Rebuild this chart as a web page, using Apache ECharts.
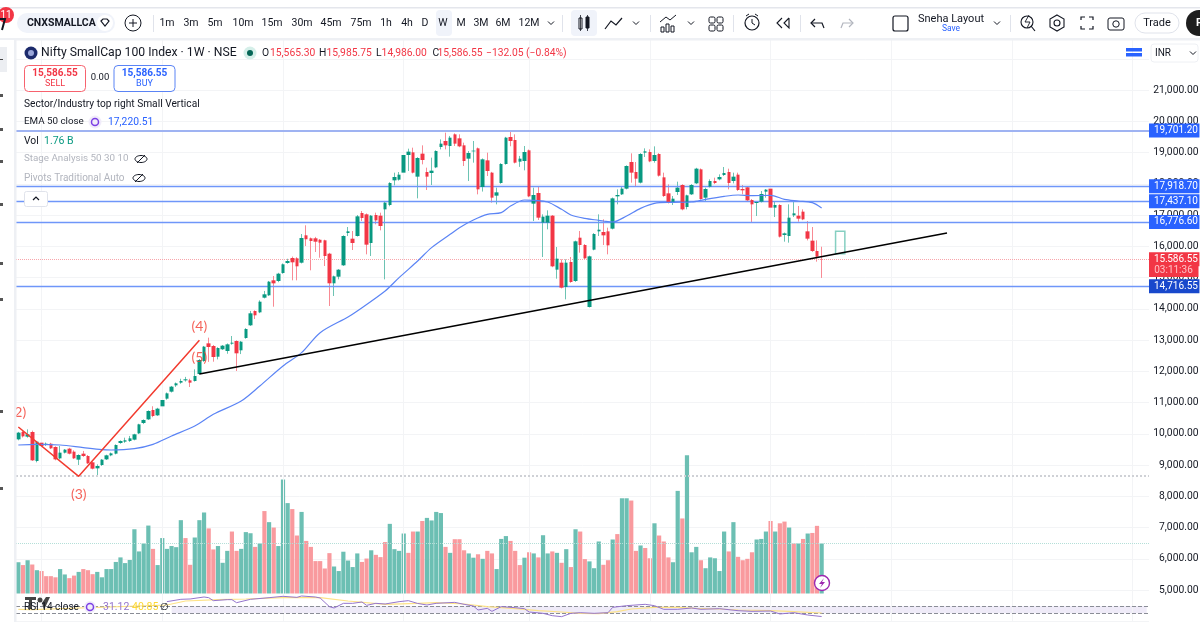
<!DOCTYPE html>
<html><head><meta charset="utf-8">
<style>html,body{margin:0;padding:0;background:#fff}#c{width:1200px;height:622px}</style>
<script src="https://cdn.jsdelivr.net/npm/echarts@6/dist/echarts.min.js"></script>
</head><body><div id="c"></div>
<script>
const opens=[9821,10056,9907,10056,9128,9714,9640,9682,9576,9213,9395,9523,9427,9171,9363,9288,9085,8893,9000,9181,9309,9363,9704,9747,9768,9811,10013,10344,10461,10760,10589,10877,11123,11347,11549,11635,11709,11709,11688,11912,12328,12893,12808,12466,12703,12648,12882,12968,12670,13064,13470,13928,13885,14354,14430,14910,14888,15144,15464,15624,15614,15474,16350,16254,16254,16208,16190,15762,14814,15026,15390,16424,16242,16328,17064,17021,16104,17000,16979,17181,17320,18109,18131,18355,18920,19005,18227,18963,18376,18344,18525,19176,19368,19208,19581,19453,19229,18803,19037,19133,17896,18749,18355,17619,18024,18632,19496,19400,18707,18728,19069,17363,17704,16755,16755,16979,15251,15475,14696,15496,14888,16274,16040,14056,15891,16477,16456,16477,16563,17597,17661,17843,18696,18376,18035,18995,19016,18728,18952,18205,17693,17384,17736,17960,17256,17661,18013,18461,17555,17907,18088,18141,18280,18376,18088,18291,17832,17885,17480,17384,17427,17747,17843,17235,17320,16360,16328,16989,16979,17107,16477,16179,15848,15590];
const closes=[10035,9917,9981,9149,9747,9608,9682,9533,9181,9395,9491,9363,9213,9320,9288,9053,8883,8968,9171,9309,9373,9640,9768,9790,9853,9981,10301,10440,10728,10568,10803,11080,11293,11507,11613,11688,11742,11635,11848,12360,12787,12776,12456,12744,12818,12861,12914,12574,12946,13352,13854,13790,14226,14462,14866,14813,15122,15422,15528,15486,15358,16264,16224,16168,16146,16114,15688,14814,15037,15250,16328,16477,16104,16957,16904,16051,16979,16829,16648,17395,18024,18216,18291,18920,19027,18355,18824,18760,18227,18419,19048,19283,19229,19475,19283,19197,18728,18984,19059,17821,18781,18408,17555,17725,18632,19475,19368,18675,18803,19016,17597,17640,16915,16947,16979,15357,15603,14675,15475,14856,16157,16040,15613,15677,16392,16530,16349,16029,17533,17640,17843,18568,18355,18163,18952,19037,18717,18920,18259,17608,17395,17522,17875,17181,17629,17960,18483,17512,17832,18088,18024,18216,18344,18024,18227,17800,17789,17469,17341,17416,17672,17811,17235,17320,16307,16413,16915,17053,16883,16861,16243,15848,15666,15586.55];
const lows=[9790,9880,9875,9130,9085,9555,9610,9510,9150,9181,9370,9340,9190,9000,9260,9030,8860,8659,8970,9160,9280,9340,9680,9710,9740,9790,9990,10310,10440,10530,10570,10850,11090,11320,11500,11600,11670,11496,11670,11890,12300,12300,12306,12380,12680,12560,12850,12008,12550,13040,13450,13672,13860,14330,14410,14066,14850,15120,15440,14910,14910,15450,16008,15230,15816,15634,15368,14088,14408,14941,15370,16328,15880,16310,16808,15741,15688,16701,16509,14941,17280,17949,18100,18330,18408,18330,17533,18621,17800,17960,18500,19100,19101,18867,19208,19170,18568,18088,18675,17661,17750,18248,17395,17341,18000,18610,19200,18650,18540,18429,17570,16808,16840,15656,16541,15330,14963,14650,14301,14830,14860,15795,15560,14040,15870,16328,16040,15741,16540,17341,17640,17820,18035,17928,18010,18856,18690,18675,18230,17580,17370,17320,17640,17150,17181,17640,17990,17490,17448,17880,17990,18110,18250,17821,18013,17770,17661,17448,16755,16968,17400,17555,17210,16936,16280,16147,16115,16936,16787,16835,16187,15820,15507,14986];
const highs=[10060,10090,10141,10100,9770,9832,9720,9710,9600,9608,9510,9550,9470,9341,9450,9320,9110,9021,9190,9330,9400,9660,9790,9875,9930,10000,10320,10460,10750,10880,10830,11100,11320,11530,11640,11760,11820,11760,12061,12390,12810,13075,12840,12770,12840,12890,13128,12990,12970,13380,13930,13950,14270,14570,14890,15048,15150,15450,15600,15670,15650,16392,16670,16280,16300,16230,16210,15790,15060,15270,16350,16616,16488,17000,17128,17050,17000,17075,17075,17450,18050,18355,18376,18950,19123,19155,18850,19229,18515,18835,19070,19420,19635,19530,19613,19581,19315,19048,19368,19160,18810,18995,18380,17875,18660,19500,19656,19581,18890,19208,19095,17875,17896,17021,17149,17000,15976,15581,15581,15656,16180,16488,16070,15700,16420,17021,16861,16595,17560,17821,17928,18590,18973,18696,18980,19133,19101,19197,18980,18355,17981,17608,18067,17985,17650,17990,18510,18490,17875,18141,18195,18300,18536,18483,18355,18355,17960,17928,17510,17448,17768,17830,17981,17448,17345,16440,17341,17448,17288,17181,16808,16616,16189,15985];
const volumes=[1.10,1.00,1.17,1.02,0.82,0.79,0.61,0.61,0.57,0.86,0.67,0.54,0.63,0.76,0.86,0.82,0.68,0.76,0.57,0.86,0.86,1.11,1.27,1.07,1.18,2.26,1.48,1.76,2.39,1.57,1.00,1.95,1.57,1.67,1.63,2.58,1.95,1.01,1.97,2.58,2.85,2.29,1.55,1.67,1.08,1.50,2.18,1.50,1.57,2.16,2.12,1.64,1.76,2.90,2.51,2.32,1.67,4.01,3.18,2.97,2.04,2.87,1.85,1.64,1.14,1.14,0.88,1.42,0.95,0.79,1.47,1.16,0.93,1.41,1.11,1.23,1.52,1.36,1.28,1.81,2.45,1.56,1.50,2.11,1.43,2.18,2.18,2.55,2.66,2.57,2.87,2.83,1.64,1.43,1.91,1.91,1.52,1.41,1.26,1.38,1.22,1.50,1.41,0.86,1.92,2.02,1.85,1.50,1.00,1.26,1.45,1.41,1.27,2.05,1.41,1.48,1.43,1.08,1.56,0.93,2.26,2.18,1.21,1.13,0.89,1.83,1.01,1.17,1.90,2.09,3.35,3.35,3.27,1.50,1.69,1.60,1.24,2.47,2.04,1.83,1.27,1.10,3.61,2.64,4.86,1.45,1.64,1.17,0.89,1.27,1.24,0.79,2.18,1.48,2.51,1.29,1.17,1.22,1.45,1.90,1.92,2.18,2.55,2.18,2.47,2.53,2.32,1.76,1.76,1.92,2.11,2.13,2.38,1.76];
const volumeDirs=["GRGRGRRRRG","GRRGRRRGGG","GGGGGGGGGR","GGGGGGRRGG","GRRGGGRRGG","GRGRGRGGGR","RGRRRRRRGG","GGGGRRGRRR","GGGGRRGRGG","GGRGRRRGGR","GRRGGGRRRG","RGRGGRGRGR","GRRGGGRRGR","GGRRGRRGRR","RGGRGGGRGG","GGGRGRRRRG","GGRGRRGRGR","GRRG"].join("");
const emaX=[0,4,9,14,18,20,25,29,33,38,42,48,52,57,61,65,71,73,79,82,86,89,93,95,98,101,104,106,109,111,114,117,119,122,125,126,128,131,134,137,141,145,148,152,155,158,162,165,168,171,173];
const emaV=[9640,9661,9640,9555,9491,9480,9523,9661,9928,10248,10621,11048,11528,12168,12595,13235,13736,13928,14568,14995,15528,15955,16381,16595,16840,17021,17075,17288,17480,17469,17416,17181,17000,16893,16829,16808,16776,16968,17213,17373,17405,17416,17501,17597,17640,17619,17629,17501,17448,17395,17220.51];
const rsiX=[32,35,37,40,41,42,45,46,47,50,54,57,60,61,64,65,67,68,70,72,74,75,77,79,82,84,86,88,90,94,96,98,99,101,102,104,107,109,110,113,115,117,119,121,124,127,128,131,135,137,139,142,145,147,151,155,158,162,164,167,170,173];
const rsiV=[71.9,78.3,79.2,84.7,82.8,74.6,77.4,77.4,69.1,78.3,82.8,86.5,83.7,87.4,84.7,81.9,58.2,54.5,67.3,67.3,71,61.8,67.3,65.5,71.9,74.6,67,62.7,67.3,70,64.6,60,49,53.6,45.4,58.2,55.4,52.7,43.6,39.9,33.5,30.8,39.9,41.7,39.9,41.7,56.3,60.9,64.6,60.9,50.9,50.9,54.5,50.9,52.7,47.2,45.4,46.3,38.1,41.7,35.3,31.12];
const rsiMaX=[0,3,32,36,43,49,57,65,71,79,86,90,96,101,107,112,117,121,125,129,132,137,142,146,151,155,162,167,173];
const rsiMaV=[50.9,50,62.7,73.7,77.4,79.2,82.8,82.8,73.7,64.6,67.3,69.1,65.5,58.2,52.7,47.2,43.6,39.9,39,44.5,51.8,56.3,56.3,53.6,51.8,49,47.2,44.5,40.85];
const priceLevels=[19701.20,17918.70,17437.10,16776.60,14716.55];
const lastPrice=15586.55;
const dottedLevel=8648;
const trendX=[39,200], trendV=[11912,16424];
const waveX=[0,13,39], waveV=[10216,8638,12990];
const waveLabelNames=["(2)","(3)","(4)","(5)"];
const waveLabelX=[0,13,39,39], waveLabelV=[10696,8072,13448,12456];
const projX=[176,178], projV=[15762,16478];
const gridWeeks=[5,31,57,83,110,136,162,188,214,240];
const hiddenTicks=[3000,4000,22000,23000];
const rsiBands=[60,40];
const timeframes=[["1m",167],["3m",191],["5m",215],["10m",243],["15m",272],["30m",302],["45m",331],["75m",361],["1h",386],["4h",407],["D",425],["W",443],["M",461],["3M",481],["6M",503],["12M",529]];
const categories=Array.from({length:244},(_,i)=>"W"+i);

const UP="#089981",DN="#f23645",F="Roboto, 'Noto Sans', sans-serif";
const fmt=v=>v.toLocaleString("en-US",{minimumFractionDigits:2,maximumFractionDigits:2});
const wickData=opens.map((o,i)=>[o,closes[i],lows[i],highs[i]]);
const bodyData=opens.map((o,i)=>[o,closes[i],Math.min(o,closes[i]),Math.max(o,closes[i])]);
const zip=(a,b)=>a.map((x,i)=>[x,b[i]]);

const g=[];
const Z=100;
function T(x,y,text,fill,size,o){o=o||{};g.push({type:'text',z:o.z||Z+2,silent:true,style:{x,y,text,fill:fill||'#131722',font:(o.w||'normal')+' '+(size||11)+'px '+F,align:o.a||'left',verticalAlign:'middle'}});}
function R(x,y,w,h,fill,o){o=o||{};g.push({type:'rect',z:o.z||Z+1,silent:true,shape:{x,y,width:w,height:h,r:o.r||0},style:{fill:fill,stroke:o.s||null,lineWidth:o.lw||1}});}
function C(x,y,r,fill,s,lw,z){g.push({type:'circle',z:z||Z+1,silent:true,shape:{cx:x,cy:y,r},style:{fill:fill,stroke:s||null,lineWidth:lw||1}});}
function P(pts,s,lw,z){g.push({type:'polyline',z:z||Z+2,silent:true,shape:{points:pts},style:{stroke:s||'#131722',lineWidth:lw||1,fill:null}});}
function chev(x,y){P([[x-3,y-1.5],[x,y+1.5],[x+3,y-1.5]],'#131722',1);}
// panels
R(0,0,1200,38,'#ffffff',{z:Z});
R(0,7,1200,1.5,'#e4e6ec',{z:Z});
R(0,38,1200,2.5,'#eef0f4',{z:Z});
R(0,40,14,582,'#ffffff',{z:Z});
R(14,40,2.5,582,'#eef0f4',{z:Z});
R(0,47,7,25,'#eceef2',{z:Z});
R(0,59,3,1,'#444',{z:Z+1});
[[1,94],[1,128],[1,160],[1,203],[1,262],[1,298],[1,410],[1,487]].forEach(p=>R(p[0]-1,p[1],3,3,'#555',{z:Z+1}));
// toolbar
P([[0,19],[5,19],[2,30]],'#131722',2);
C(6,15,8,'#f23645');
T(6,15,"11","#fff",10,{a:'center'});
R(17,13,98,20,'#f0f3fa',{r:10});
T(27,23,"CNXSMALLCA","#131722",10.5,{w:'bold'});
C(105,23,8,'#ffffff');
g.push({type:'polygon',z:Z+3,silent:true,shape:{points:[[101,21],[103,19],[107,19],[109,21],[105,26]]},style:{fill:null,stroke:'#131722',lineWidth:1.2}});
C(133,23,8,'#fff','#131722',1);
P([[129,23],[137,23]],'#131722',1);P([[133,19],[133,27]],'#131722',1);
[153,562,650,733,800,1010].forEach(x=>R(x,15,1,17,'#e0e3eb'));
R(436,10,16,26,'#f0f3fa',{r:4});
R(571,10,26,26,'#f0f3fa',{r:4});
timeframes.forEach(t=>T(t[1],23,t[0],"#131722",10.5,{a:'center'}));
chev(551,23);
R(579,18,3,11,'#fff',{s:'#131722'});R(586,17,3,11,'#131722',{s:'#131722'});
P([[580.5,15],[580.5,31]],'#131722',.8);P([[587.5,15],[587.5,31]],'#131722',.8);
P([[605,29],[611,21],[616,25],[622,18]],'#131722',1.2);chev(636,23);
P([[660,22],[666,17],[670,20],[676,15]],'#131722',1);
R(661,27,3,5,'#fff',{s:'#131722'});R(666,24,3,8,'#fff',{s:'#131722'});R(671,26,3,6,'#fff',{s:'#131722'});chev(691,23);
[[709,17],[717,17],[709,25],[717,25]].forEach(p=>R(p[0],p[1],6,6,'#fff',{s:'#131722',r:1.5}));
C(752,23,7,'#fff','#131722',1.2);P([[752,19],[752,23],[755,25]],'#131722',1);
P([[746,16],[749,14]],'#131722',1);P([[758,16],[755,14]],'#131722',1);
P([[789,18],[784,23],[789,28],[789,18]],'#131722',1.1);P([[782,18],[777,23],[782,28]],'#131722',1.1);
P([[815,19],[811,23],[815,27]],'#131722',1.2);P([[811,23],[822,23],[824,28]],'#131722',1.2);
P([[849,19],[853,23],[849,27]],'#b2b5be',1.2);P([[853,23],[843,23],[841,28]],'#b2b5be',1.2);
R(893,16,15,15,'#fff',{s:'#131722',r:2,lw:1.2});
T(951,19,"Sneha Layout","#131722",11,{a:'center'});
T(951,28.5,"Save","#2962ff",8.5,{a:'center'});
chev(997,23);
C(1027,22,6,'#fff','#131722',1.1);P([[1031,26],[1035,31]],'#131722',1.2);P([[1029,15],[1025,22],[1030,22],[1027,28]],'#131722',.9);
g.push({type:'polygon',z:Z+2,silent:true,shape:{points:[[1057,15],[1064,19],[1064,27],[1057,31],[1050,27],[1050,19]]},style:{fill:'#fff',stroke:'#131722',lineWidth:1.1}});
C(1057,23,3,'#fff','#131722',1.1,Z+3);
P([[1081,20],[1081,17],[1085,17]],'#131722',1.2);P([[1089,17],[1093,17],[1093,20]],'#131722',1.2);P([[1081,26],[1081,29],[1085,29]],'#131722',1.2);P([[1089,29],[1093,29],[1093,26]],'#131722',1.2);
R(1108,18,16,12,'#fff',{s:'#131722',r:2});C(1116,24,3.2,'#fff','#131722',1,Z+3);
R(1135,13,44,20,'#fff',{s:'#e0e3eb',r:10});
T(1157,23,"Trade","#131722",11,{a:'center'});
C(1199,23,13,'#1e1e1e');
T(1196,23,"P","#fff",11,{w:'bold'});
// legend
C(31,53,6.5,'#1c2a6b');C(31,53,3,'#9aa6d8',null,1,Z+2);
T(41,53,"Nifty SmallCap 100 Index · 1W · NSE","#131722",12.2);
C(250,53,6.5,'#d5efe9');C(250,53,3,'#056656',null,1,Z+2);
[[262,"O"],[319,"H"],[376,"L"],[432.5,"C"]].forEach(a=>T(a[0],53,a[1],"#131722",10.3));
[[270,"15,565.30"],[326.5,"15,985.75"],[381.6,"14,986.00"],[437.4,"15,586.55"],[486,"−132.05 (−0.84%)"]].forEach(a=>T(a[0],53,a[1],DN,10.3));
R(24.5,65.5,61,26,'#fff',{s:'#f7626e',r:4});
T(55,73,"15,586.55",DN,10,{w:'bold',a:'center'});
T(55,84,"SELL",DN,9,{a:'center'});
T(100,78,"0.00","#131722",9.5,{a:'center'});
R(114,65.5,61,26,'#fff',{s:'#5b84f5',r:4});
T(144.5,73,"15,586.55","#2962ff",10,{w:'bold',a:'center'});
T(144.5,84,"BUY","#2962ff",9,{a:'center'});
T(24,104,"Sector/Industry top right Small Vertical","#131722",10.2);
T(24,122,"EMA 50 close","#131722",9.8);
C(95,122,6.5,'#f1ecfa');C(95,122,3.5,null,'#7b3fe4',1.5,Z+2);
T(108,122,"17,220.51","#2962ff",10.3);
T(24,141,"Vol","#131722",10.3);
T(44,141,"1.76 B",UP,10.5);
T(24,159,"Stage Analysis 50 30 10","#b2b5be",9.8);
T(24,178,"Pivots Traditional Auto","#b2b5be",10);
[[141,159],[139,178]].forEach(p=>{g.push({type:'ellipse',z:Z+2,silent:true,shape:{cx:p[0],cy:p[1],rx:6,ry:3.5},style:{fill:null,stroke:'#131722',lineWidth:1}});P([[p[0]-4,p[1]+4],[p[0]+4,p[1]-4]],'#131722',1);});
R(24.5,191.5,23,15,'#fff',{s:'#e0e3eb',r:2});
P([[33,200],[36,197],[39,200]],'#131722',1.2);
R(1126,48,16,3.5,'#2962ff');R(1126,53,16,3.5,'#2962ff');
R(1151,44,47,18,'#fff',{s:'#eef0f4',r:3});
T(1155,53,"INR","#131722",10);chev(1193,53);
// countdown under red tag
R(1149,262,49.5,15,DN,{z:Z+1});
T(1173.5,270,"03:11:36","#ffc0c5",10,{a:'center'});
// RSI legend
R(25,597,11,3,'#444',{z:Z});R(29,597,3,12,'#444',{z:Z});C(40,600,2.5,'#444',null,1,Z);
g.push({type:'polygon',z:Z,silent:true,shape:{points:[[42,603],[46,597],[50,597],[44,610]]},style:{fill:'#444'}});
T(24,607.5,"RSI 14 close","#131722",10);
C(90,607,6,'#f1ecfa');C(90,607,3.5,null,'#7b3fe4',1.5,Z+2);
T(103,607.5,"31.12","#9575cd",10.5);
T(132,607.5,"40.85","#fdd835",10.5);
T(160,607.5,"∅","#131722",10);
// flash badge
C(822,583,7.5,'#fff','#9c27b0',1.4);
g.push({type:'polygon',z:Z+3,silent:true,shape:{points:[[824,578],[819,584],[822,584],[820,588],[825,582],[822,582]]},style:{fill:'#9c27b0'}});

const NUL={show:false};
const tag=(v,bg)=>({show:true,position:'end',distance:0,formatter:fmt(v),color:'#fff',fontFamily:F,fontSize:10,lineHeight:12,
        backgroundColor:bg,padding:[1,1.5,1,5],align:'left'});
const option={
 animation:false,backgroundColor:'#fff',
 grid:[
  {left:16,width:1133,top:27.5,height:625,outerBoundsMode:'none',containLabel:false},
  {left:16,width:1133,top:440,height:153.5,outerBoundsMode:'none'},
  {left:16,width:1133,top:595.05,height:25.55,outerBoundsMode:'none'}
 ],
 xAxis:[0,1,2].map(i=>({type:'category',gridIndex:i,data:categories,show:false,boundaryGap:true})),
 yAxis:[
  {type:'value',gridIndex:0,position:'right',min:3000,max:23000,interval:1000,
   axisLine:NUL,axisTick:NUL,
   splitLine:{lineStyle:{color:'#f3f4f6',width:1}},
   axisLabel:{inside:false,margin:49.5,align:'right',color:'#131722',fontFamily:F,fontSize:10.3,
     formatter:v=>hiddenTicks.includes(v)?'':fmt(v)}},
  {type:'value',gridIndex:1,min:0,max:5.4,show:false},
  {type:'value',gridIndex:2,min:20,max:90,show:false}
 ],
 series:[
  {type:'line',data:[],xAxisIndex:0,yAxisIndex:0,z:1,silent:true,
   markLine:{silent:true,symbol:'none',animation:false,label:NUL,lineStyle:{color:'#f3f4f6',type:'solid',width:1},
     data:gridWeeks.map(w=>({xAxis:w}))}},
  {type:'bar',name:'Volume',xAxisIndex:1,yAxisIndex:1,barWidth:4.2,z:2,silent:true,
   data:volumes.map((v,i)=>({value:v,itemStyle:{color:volumeDirs[i]==='G'?'#6cbfb3':'#f99a9e'}})),
   markLine:{silent:true,symbol:'none',animation:false,label:NUL,lineStyle:{color:'#b4dfd8',type:'dotted',width:1},
     data:[{yAxis:volumes[volumes.length-1]}]}},
  {type:'candlestick',name:'Wicks',xAxisIndex:0,yAxisIndex:0,z:4,barWidth:1,silent:true,
   data:wickData,itemStyle:{color:'#6dc3b3',color0:'#f88a94',borderColor:'#6dc3b3',borderColor0:'#f88a94',borderWidth:1}},
  {type:'candlestick',name:'Bodies',xAxisIndex:0,yAxisIndex:0,z:5,barWidth:4,silent:true,
   data:bodyData,itemStyle:{color:UP,color0:DN,borderColor:UP,borderColor0:DN,borderWidth:0}},
  {type:'line',name:'EMA 50',xAxisIndex:0,yAxisIndex:0,z:6,data:zip(emaX,emaV),showSymbol:false,silent:true,smooth:0.3,
   lineStyle:{color:'#5b84f5',width:1.2}},
  {type:'line',name:'Levels',xAxisIndex:0,yAxisIndex:0,z:7,data:[],silent:true,
   markLine:{silent:true,symbol:'none',animation:false,precision:2,
    data:priceLevels.map((v,i)=>({yAxis:v,
      lineStyle:{color:i===0?'#9fb3f2':'#6f96f9',width:i===0?2:1.3,type:'solid'},
      label:tag(v,i===4?'#1848cc':'#2962ff')}))
     .concat([{yAxis:lastPrice,lineStyle:{color:'#f8a5ab',width:1,type:'dotted'},
      label:tag(lastPrice,DN)},
      {yAxis:dottedLevel,lineStyle:{color:'#cfd1d6',width:2,type:'dotted'},label:NUL}])}},
  {type:'line',name:'Trend',xAxisIndex:0,yAxisIndex:0,z:8,data:zip(trendX,trendV),showSymbol:false,silent:true,
   lineStyle:{color:'#000',width:1.6}},
  {type:'line',name:'Wave',xAxisIndex:0,yAxisIndex:0,z:8,data:zip(waveX,waveV),showSymbol:false,silent:true,
   lineStyle:{color:'#f23b2f',width:1.5},
   markArea:{silent:true,animation:false,itemStyle:{color:'rgba(0,0,0,0)',borderColor:'#85cfc1',borderWidth:1.5},
     data:[[{xAxis:projX[0],yAxis:projV[0]},{xAxis:projX[1],yAxis:projV[1]}]]}},
  {type:'scatter',name:'WaveLabels',xAxisIndex:0,yAxisIndex:0,z:9,symbolSize:1,silent:true,clip:false,
   data:zip(waveLabelX,waveLabelV),itemStyle:{color:'rgba(0,0,0,0)'},
   label:{show:true,position:'inside',color:'#f23b2f',fontFamily:"Lato, Roboto, sans-serif",fontSize:14,
     formatter:p=>waveLabelNames[p.dataIndex]}},
  {type:'line',name:'RSI MA',xAxisIndex:2,yAxisIndex:2,z:6,data:zip(rsiMaX,rsiMaV),showSymbol:false,silent:true,
   lineStyle:{color:'#fde287',width:1.2}},
  {type:'line',name:'RSI',xAxisIndex:2,yAxisIndex:2,z:7,data:zip(rsiX,rsiV),showSymbol:false,silent:true,
   lineStyle:{color:'#9575cd',width:1},
   markArea:{silent:true,animation:false,itemStyle:{color:'#efebf8'},
     data:[[{xAxis:33,yAxis:rsiBands[0]},{xAxis:243,yAxis:rsiBands[1]}]]},
   markLine:{silent:true,symbol:'none',animation:false,label:NUL,lineStyle:{color:'#8a8d96',type:'dashed',width:1,dashOffset:0},
     data:rsiBands.map(v=>({yAxis:v}))}}
 ],
 graphic:{elements:g}
};
echarts.init(document.getElementById('c'),null,{renderer:'canvas'}).setOption(option);
</script></body></html>
